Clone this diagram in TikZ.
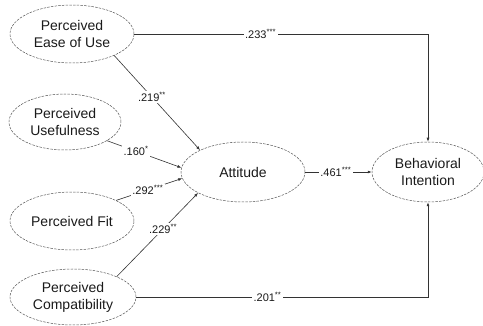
\documentclass[tikz,border=0pt]{standalone}
\usepackage{fontspec}
\setmainfont{Liberation Sans}
\usetikzlibrary{shapes.geometric,arrows.meta}

\begin{document}
\begin{tikzpicture}[x=1pt,y=-1pt,
  construct/.style={ellipse, draw=EdgeGray, dash pattern=on 2.5pt off 1.2pt, line width=0.5pt,
    inner sep=0pt, align=center, text=TextGray, font=\fontsize{14}{17}\selectfont},
  effect/.style={draw=LineGray, line width=0.6pt, -{Latex[length=4pt,width=3pt]}},
  coef/.style={fill=white, inner sep=1.5pt, text=TextGray, font=\fontsize{11}{12}\selectfont}]
\definecolor{EdgeGray}{HTML}{555555};
\definecolor{LineGray}{HTML}{333333};
\definecolor{TextGray}{HTML}{1A1A1A};

\useasboundingbox (0,0) rectangle (483,326);

% constructs
\node[construct, minimum width=124, minimum height=58] (peu) at (72,34) {Perceived\\Ease of Use};
\node[construct, minimum width=112, minimum height=56] (pu) at (65,122) {Perceived\\Usefulness};
\node[construct, minimum width=124, minimum height=58] (pf) at (72,221) {Perceived Fit};
\node[construct, minimum width=126, minimum height=56] (pc) at (73,297) {Perceived\\Compatibility};
\node[construct, minimum width=124, minimum height=60] (att) at (243,172) {Attitude};
\node[construct, minimum width=112, minimum height=60] (bi) at (428,172) {Behavioral\\Intention};

% paths into attitude
\draw[effect] (peu.-27) -- node[coef, pos=.44] {.219\textsuperscript{**}} (att.153);
\draw[effect] (pu.-24) -- node[coef, pos=.39] {.160\textsuperscript{*}} (att.176);
\draw[effect] (pf.25) -- node[coef, pos=.48] {.292\textsuperscript{***}} (att.186);
\draw[effect] (pc.25) -- node[coef, pos=.57] {.229\textsuperscript{**}} (att.205);

% paths into intention
\draw[effect] (att.east) -- node[coef, pos=.46] {.461\textsuperscript{***}} (bi.west);
\draw[effect] (peu.east) -- node[coef, pos=.43] {.233\textsuperscript{***}} (peu.east -| bi.north) -- (bi.north);
\draw[effect] (pc.east) -- node[coef, pos=.45] {.201\textsuperscript{**}} (pc.east -| bi.south) -- (bi.south);
\end{tikzpicture}
\end{document}
